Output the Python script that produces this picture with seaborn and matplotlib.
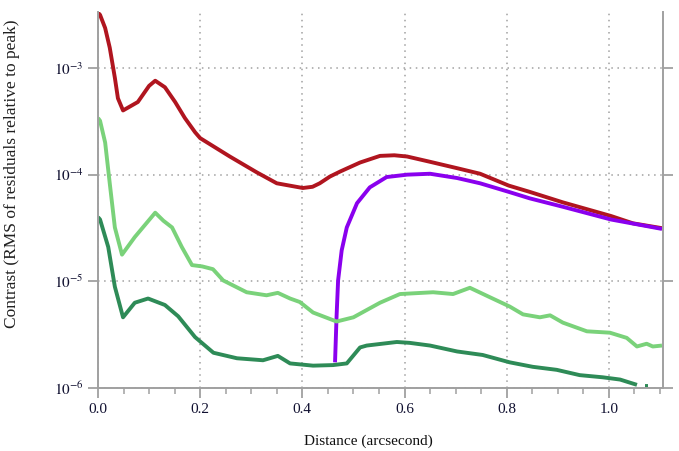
import numpy as np
import pandas as pd
import matplotlib
matplotlib.use("Agg")
import matplotlib.pyplot as plt
import matplotlib.ticker as mticker
import seaborn as sns

# Radial contrast curves: distance (arcsec) vs RMS of residuals relative to peak
red_d = [0.0, 0.004, 0.014, 0.023, 0.033, 0.039, 0.049, 0.078, 0.100, 0.112, 0.131,
         0.151, 0.170, 0.19, 0.2, 0.258, 0.311, 0.35, 0.401, 0.42, 0.434, 0.454,
         0.474, 0.513, 0.552, 0.58, 0.605, 0.65, 0.703, 0.748, 0.804, 0.845, 0.91,
         1.004, 1.047, 1.104]
red_v = [3.3e-3, 3.15e-3, 2.37e-3, 1.55e-3, 8.1e-4, 5.2e-4, 4.0e-4, 4.8e-4, 6.8e-4,
         7.6e-4, 6.6e-4, 4.8e-4, 3.4e-4, 2.5e-4, 2.2e-4, 1.48e-4, 1.05e-4, 8.3e-5,
         7.5e-5, 7.7e-5, 8.3e-5, 9.6e-5, 1.07e-4, 1.3e-4, 1.5e-4, 1.52e-4, 1.48e-4,
         1.32e-4, 1.15e-4, 1.02e-4, 7.9e-5, 6.9e-5, 5.5e-5, 4.1e-5, 3.5e-5, 3.15e-5]

purple_d = [0.464, 0.467, 0.47, 0.477, 0.487, 0.507, 0.532, 0.565, 0.605, 0.65,
            0.703, 0.748, 0.804, 0.845, 0.91, 1.004, 1.104]
purple_v = [1.74e-6, 4.7e-6, 1.02e-5, 1.95e-5, 3.2e-5, 5.4e-5, 7.6e-5, 9.5e-5, 1.0e-4,
            1.02e-4, 9.3e-5, 8.3e-5, 6.9e-5, 6.0e-5, 5.0e-5, 3.8e-5, 3.1e-5]

light_d = [0.0, 0.004, 0.014, 0.023, 0.033, 0.047, 0.072, 0.112, 0.128, 0.145, 0.164,
           0.184, 0.204, 0.225, 0.245, 0.291, 0.33, 0.352, 0.376, 0.395, 0.421, 0.467,
           0.5, 0.552, 0.591, 0.656, 0.695, 0.728, 0.767, 0.806, 0.832, 0.865, 0.885,
           0.91, 0.957, 1.002, 1.035, 1.055, 1.074, 1.086, 1.104]
light_v = [3.4e-4, 3.2e-4, 2.0e-4, 8.3e-5, 3.2e-5, 1.78e-5, 2.6e-5, 4.4e-5, 3.7e-5,
           3.2e-5, 2.1e-5, 1.42e-5, 1.38e-5, 1.3e-5, 1.02e-5, 7.9e-6, 7.4e-6, 7.8e-6,
           6.9e-6, 6.4e-6, 5.1e-6, 4.2e-6, 4.6e-6, 6.3e-6, 7.6e-6, 7.9e-6, 7.6e-6,
           8.7e-6, 7.1e-6, 5.8e-6, 4.9e-6, 4.6e-6, 4.8e-6, 4.1e-6, 3.4e-6, 3.3e-6,
           2.95e-6, 2.45e-6, 2.6e-6, 2.45e-6, 2.5e-6]

dark_d = [0.0, 0.004, 0.02, 0.033, 0.049, 0.072, 0.098, 0.131, 0.157, 0.19, 0.226,
          0.272, 0.323, 0.352, 0.376, 0.421, 0.46, 0.487, 0.513, 0.526, 0.585, 0.61,
          0.65, 0.703, 0.753, 0.806, 0.851, 0.898, 0.943, 0.988, 1.022, 1.055, 1.063,
          1.07, 1.077]
dark_v = [4.0e-5, 3.8e-5, 2.1e-5, 8.9e-6, 4.6e-6, 6.3e-6, 6.9e-6, 6.0e-6, 4.7e-6,
          3.0e-6, 2.14e-6, 1.9e-6, 1.82e-6, 2.0e-6, 1.7e-6, 1.62e-6, 1.64e-6, 1.7e-6,
          2.4e-6, 2.5e-6, 2.7e-6, 2.65e-6, 2.5e-6, 2.2e-6, 2.04e-6, 1.74e-6, 1.58e-6,
          1.48e-6, 1.32e-6, 1.26e-6, 1.2e-6, 1.07e-6, np.nan, 1.05e-6, 1.05e-6]

series = {
    "red": (red_d, red_v),
    "purple": (purple_d, purple_v),
    "light": (light_d, light_v),
    "dark": (dark_d, dark_v),
}
colors = {"red": "#b0151f", "purple": "#8a00ee", "light": "#7ad27a", "dark": "#2e8b57"}

sns.set_style("ticks")
plt.rcParams["font.family"] = ["Liberation Serif", "DejaVu Serif"]
plt.rcParams["mathtext.fontset"] = "stix"

fig = plt.figure(figsize=(6.79, 4.51), dpi=100)
ax = fig.add_axes([98 / 679, 1 - 388 / 451, (663 - 98) / 679, (388 - 12) / 451])

for name, (d, v) in series.items():
    df = pd.DataFrame({"d": d, "v": v})
    # split at gaps so each piece is drawn separately
    seg = df["v"].isna().cumsum()
    valid = df["v"].notna()
    for _, part in df[valid].groupby(seg[valid]):
        sns.lineplot(data=part, x="d", y="v", ax=ax, color=colors[name], lw=2.8,
                     sort=False, estimator=None, solid_capstyle="butt",
                     solid_joinstyle="round")

ax.set_yscale("log")
ax.set_xlim(0, 1.106)
ax.set_ylim(1e-6, 3.35e-3)

ax.xaxis.set_major_locator(mticker.MultipleLocator(0.2))
ax.xaxis.set_minor_locator(mticker.MultipleLocator(0.05))
ax.xaxis.set_major_formatter(mticker.FormatStrFormatter("%.1f"))
ax.yaxis.set_major_locator(mticker.LogLocator(base=10, numticks=10))
ax.yaxis.set_minor_locator(mticker.NullLocator())
ax.yaxis.set_major_formatter(mticker.FuncFormatter(
    lambda v, _: r"$10^{%d}$" % int(round(np.log10(v)))))

grey = "#a0a0a0"
ax.grid(True, which="major", color=grey, linestyle=(0, (1, 3)), lw=1.1)
for s in ["left", "bottom", "right"]:
    ax.spines[s].set_color(grey)
    ax.spines[s].set_linewidth(1.4)
ax.spines["top"].set_visible(False)
ax.tick_params(axis="both", which="major", color=grey, width=1.3, length=7,
               labelsize=11, labelcolor="#101030")
ax.tick_params(axis="x", which="minor", color=grey, width=1.1, length=4)
ax.tick_params(axis="y", which="major", right=True)

ax.set_xlabel("Distance (arcsecond)", fontsize=11, color="#101010")
ax.set_ylabel("Contrast (RMS of residuals relative to peak)", fontsize=12.5,
              color="#202020")
ax.xaxis.set_label_coords(0.478, -0.125)
ax.yaxis.set_label_coords(-0.138, 0.57)

fig.savefig("out.png", dpi=100)
